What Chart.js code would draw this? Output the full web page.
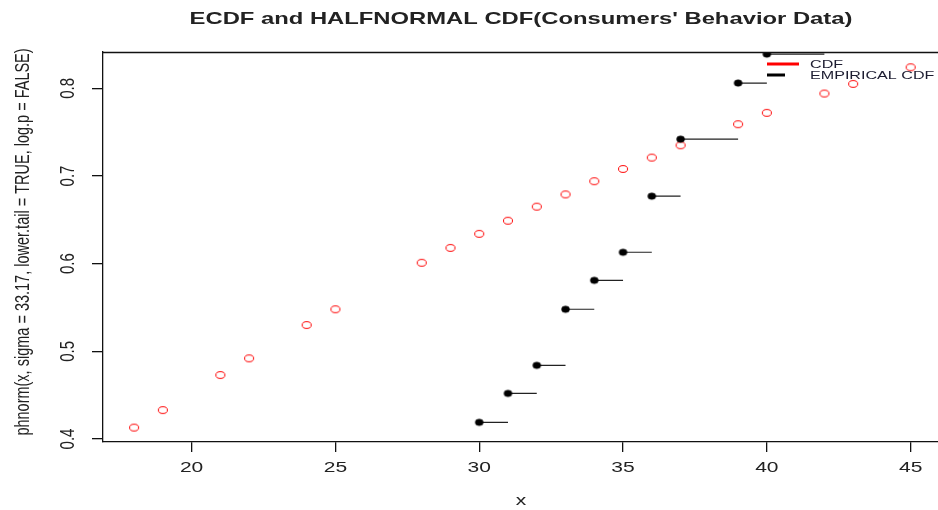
<!DOCTYPE html>
<html>
<head>
<meta charset="utf-8">
<script src="https://cdn.jsdelivr.net/npm/chart.js@4/dist/chart.umd.min.js"></script>
<style>
  html, body { margin: 0; padding: 0; background: #fff; }
  #wrap { width: 938px; height: 510px; position: relative; }
</style>
</head>
<body>
<div id="wrap"><canvas id="ecdfChart"></canvas></div>
<script>
// half-normal CDF values
const cdfX = [18, 19, 21, 22, 24, 25, 28, 29, 30, 31, 32, 33, 34, 35, 36, 37, 39, 40, 42, 43, 45];
const cdfY = [0.413, 0.433, 0.473, 0.492, 0.530, 0.548, 0.601, 0.618, 0.634, 0.649, 0.665,
              0.679, 0.694, 0.708, 0.721, 0.735, 0.759, 0.772, 0.794, 0.805, 0.824];

// empirical CDF steps (black dots) and where each step ends
const ecdfX = [30, 31, 32, 33, 34, 35, 36, 37, 39, 40];
const ecdfY = [0.419, 0.452, 0.484, 0.548, 0.581, 0.613, 0.677, 0.742, 0.806, 0.839];
const ecdfEnd = [31, 32, 33, 34, 35, 36, 37, 39, 40, 42];

const xTicks = ['20', '25', '30', '35', '40', '45'];
const yTicks = ['0.4', '0.5', '0.6', '0.7', '0.8'];

const TITLE = "ECDF and HALFNORMAL CDF(Consumers' Behavior Data)";
const X_TITLE = 'x';
const Y_TITLE = 'phnorm(x, sigma = 33.17, lower.tail = TRUE, log.p = FALSE)';

const FONT = "'Liberation Sans', Arial, sans-serif";
const INK = '#222';
const STRETCH = 1.4; // the original picture is stretched sideways

const cdfPoints = cdfX.map((x, i) => ({ x: x, y: cdfY[i] }));
const ecdfPoints = ecdfX.map((x, i) => ({ x: x, y: ecdfY[i] }));
const stepLines = [];
ecdfX.forEach((x, i) => {
    stepLines.push({ x: x, y: ecdfY[i] });
    stepLines.push({ x: ecdfEnd[i], y: ecdfY[i] });
    stepLines.push({ x: ecdfEnd[i], y: null });
});

// oval point markers, to match the stretched look
function ovalMarker(rx, ry, stroke, fill, lw) {
    const c = document.createElement('canvas');
    c.width = Math.ceil(rx * 2 + 3);
    c.height = Math.ceil(ry * 2 + 3);
    const g = c.getContext('2d');
    g.beginPath();
    g.ellipse(c.width / 2, c.height / 2, rx, ry, 0, 0, Math.PI * 2);
    if (fill) { g.fillStyle = fill; g.fill(); }
    if (stroke) { g.strokeStyle = stroke; g.lineWidth = lw; g.stroke(); }
    return c;
}
const redRing = ovalMarker(4.5, 3.4, '#ff0000', null, 1);
const blackDot = ovalMarker(4.0, 3.3, '#000', '#000', 0.5);

function wideText(ctx, text, x, y, sx) {
    ctx.save();
    ctx.translate(x, y);
    ctx.scale(sx, 1);
    ctx.fillText(text, 0, 0);
    ctx.restore();
}

// R style frame, rotated y labels, titles and legend
const rDecor = {
    id: 'rDecor',
    afterDraw(chart) {
        const { ctx, chartArea: a, scales } = chart;
        ctx.save();
        ctx.strokeStyle = '#111';
        ctx.lineWidth = 1.3;
        ctx.beginPath();
        ctx.moveTo(a.left, a.top + 0.5);
        ctx.lineTo(a.right, a.top + 0.5);
        ctx.stroke();

        ctx.fillStyle = INK;
        ctx.font = '15px ' + FONT;
        ctx.textAlign = 'center';
        ctx.textBaseline = 'middle';
        scales.y.ticks.forEach((t, i) => {
            const py = scales.y.getPixelForValue(t.value);
            ctx.save();
            ctx.translate(68, py);
            ctx.rotate(-Math.PI / 2);
            ctx.scale(1, STRETCH);
            ctx.fillText(yTicks[i] !== undefined ? yTicks[i] : String(t.value), 0, 0);
            ctx.restore();
        });

        ctx.font = '14.5px ' + FONT;
        ctx.save();
        ctx.translate(23, 242);
        ctx.rotate(-Math.PI / 2);
        ctx.scale(1, STRETCH);
        ctx.fillText(Y_TITLE, 0, 0);
        ctx.restore();

        ctx.font = '15px ' + FONT;
        wideText(ctx, X_TITLE, 521, 501, STRETCH);

        ctx.font = 'bold 17px ' + FONT;
        wideText(ctx, TITLE, 521, 19, STRETCH);

        // legend
        ctx.lineWidth = 3;
        ctx.strokeStyle = '#ff0000';
        ctx.beginPath(); ctx.moveTo(767, 64); ctx.lineTo(799, 64); ctx.stroke();
        ctx.strokeStyle = '#000';
        ctx.beginPath(); ctx.moveTo(767, 75); ctx.lineTo(785, 75); ctx.stroke();
        ctx.font = '11.5px ' + FONT;
        ctx.textAlign = 'left';
        ctx.fillStyle = '#1c1c30';
        wideText(ctx, chart.data.datasets[0].label, 810, 65, STRETCH);
        wideText(ctx, chart.data.datasets[1].label, 810, 76, STRETCH);
        ctx.restore();
    }
};

new Chart(document.getElementById('ecdfChart'), {
    type: 'scatter',
    data: {
        datasets: [{
            label: 'CDF',
            data: cdfPoints,
            pointStyle: redRing,
            borderColor: '#ff0000',
            backgroundColor: 'rgba(0,0,0,0)',
            order: 3
        }, {
            label: 'EMPIRICAL CDF',
            data: ecdfPoints,
            pointStyle: blackDot,
            borderColor: '#000',
            backgroundColor: '#000',
            order: 1
        }, {
            label: 'steps',
            data: stepLines,
            showLine: true,
            spanGaps: false,
            pointRadius: 0,
            borderColor: '#222',
            borderWidth: 1.2,
            order: 2
        }]
    },
    options: {
        responsive: true,
        maintainAspectRatio: false,
        animation: false,
        layout: { autoPadding: false, padding: { top: 52, left: 0, right: 0, bottom: 0 } },
        plugins: {
            legend: { display: false },
            tooltip: { enabled: false },
            title: { display: false }
        },
        scales: {
            x: {
                type: 'linear',
                min: 16.92,
                max: 45.95,
                afterFit(scale) {
                    scale.height = 68;
                    scale.paddingLeft = 0;
                    scale.paddingRight = 0;
                },
                grid: { drawOnChartArea: false, drawTicks: true, tickLength: 10, color: '#111', lineWidth: 1.3 },
                border: { display: true, color: '#111', width: 1.3 },
                ticks: {
                    stepSize: 5,
                    includeBounds: false,
                    autoSkip: false,
                    maxRotation: 0,
                    display: false
                }
            },
            y: {
                type: 'linear',
                min: 0.3966,
                max: 0.8414,
                afterFit(scale) {
                    scale.width = 103;
                    scale.paddingTop = 0;
                    scale.paddingBottom = 0;
                },
                grid: { drawOnChartArea: false, drawTicks: true, tickLength: 11, color: '#111', lineWidth: 1.3 },
                border: { display: true, color: '#111', width: 1.3 },
                ticks: {
                    stepSize: 0.1,
                    includeBounds: false,
                    display: false
                }
            }
        }
    },
    plugins: [rDecor, {
        id: 'xLabels',
        afterDraw(chart) {
            const { ctx, scales } = chart;
            ctx.save();
            ctx.fillStyle = INK;
            ctx.font = '15px ' + FONT;
            ctx.textAlign = 'center';
            ctx.textBaseline = 'middle';
            scales.x.ticks.forEach((t) => {
                const s = String(t.value);
                if (xTicks.indexOf(s) < 0) return;
                wideText(ctx, s, scales.x.getPixelForValue(t.value), 468, STRETCH);
            });
            ctx.restore();
        }
    }]
});
</script>
</body>
</html>
